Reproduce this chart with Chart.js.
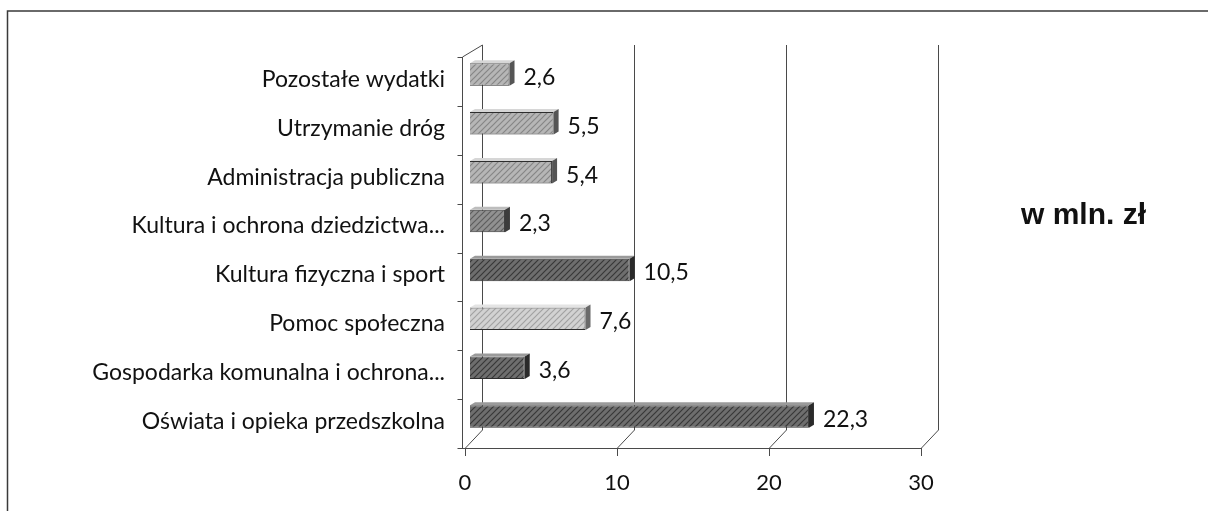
<!DOCTYPE html>
<html>
<head>
<meta charset="utf-8">
<script src="https://cdn.jsdelivr.net/npm/chart.js@4.4.1/dist/chart.umd.min.js"></script>
<style>
  html, body { margin: 0; padding: 0; background: #fff; }
  #wrap { width: 1208px; height: 511px; }
</style>
</head>
<body>
<div id="wrap"><canvas id="chart" width="1208" height="511"></canvas></div>
<script>
// categories, top to bottom as in the picture
const categories = [
  'Pozostałe wydatki',
  'Utrzymanie dróg',
  'Administracja publiczna',
  'Kultura i ochrona dziedzictwa...',
  'Kultura fizyczna i sport',
  'Pomoc społeczna',
  'Gospodarka komunalna i ochrona...',
  'Oświata i opieka przedszkolna'
];
// w mln. zł
const values = [2.6, 5.5, 5.4, 2.3, 10.5, 7.6, 3.6, 22.3];
const unitLabel = 'w mln. zł';
const xMin = 0, xMax = 30, xStep = 10;

// shade per bar (kept apart from the data)
const shadeOf = ['light', 'light', 'light', 'mid', 'dark', 'lightest', 'dark', 'dark'];
const shades = {
  lightest: { base: '#d2d2d2', line: '#a2a2a2', cap: '#6a6a6a', top: '#e4e4e4' },
  light:    { base: '#b6b6b6', line: '#868686', cap: '#555555', top: '#d6d6d6' },
  mid:      { base: '#919191', line: '#5e5e5e', cap: '#3c3c3c', top: '#bdbdbd' },
  dark:     { base: '#6e6e6e', line: '#383838', cap: '#2a2a2a', top: '#9a9a9a' }
};

const labelFont = { family: 'Lato, "Open Sans", sans-serif', size: 23 };
const tickFont = { family: 'Lato, "Open Sans", sans-serif', size: 22 };
const textColor = '#111';

// little hatch tile to mimic the scanned fill
function hatch(base, line) {
  const t = document.createElement('canvas');
  t.width = 6; t.height = 6;
  const g = t.getContext('2d');
  g.fillStyle = base;
  g.fillRect(0, 0, 6, 6);
  g.strokeStyle = line;
  g.lineWidth = 1.2;
  g.beginPath();
  g.moveTo(0, 6); g.lineTo(6, 0);
  g.moveTo(-1, 1); g.lineTo(1, -1);
  g.moveTo(5, 7); g.lineTo(7, 5);
  g.stroke();
  return g.createPattern(t, 'repeat');
}

const ctx = document.getElementById('chart').getContext('2d');
ctx.letterSpacing = '0.6px';
const fills = shadeOf.map(s => hatch(shades[s].base, shades[s].line));

// 3D-looking walls and floor, placed from the x scale
const FRONT_DX = -5, BACK_DX = 12;
const FLOOR_Y = 448, BACK_BOTTOM = 430, BACK_TOP = 45, FRONT_TOP = 57;

const wallPlugin = {
  id: 'walls',
  beforeDatasetsDraw(chart) {
    const g = chart.ctx;
    const xs = chart.scales.x;
    g.save();
    g.strokeStyle = '#4a4a4a';
    g.lineWidth = 1;
    for (let v = xMin; v <= xMax; v += xStep) {
      const p = xs.getPixelForValue(v);
      const bx = Math.round(p + BACK_DX) + 0.5;
      const fx = Math.round(p + FRONT_DX) + 0.5;
      g.beginPath();
      g.moveTo(bx, BACK_TOP); g.lineTo(bx, BACK_BOTTOM);
      g.lineTo(fx, FLOOR_Y); g.lineTo(fx, FLOOR_Y + 8);
      g.stroke();
    }
    // front floor edge
    const f0 = xs.getPixelForValue(xMin) + FRONT_DX;
    const f1 = xs.getPixelForValue(xMax) + FRONT_DX;
    g.beginPath();
    g.moveTo(f0 - 3, FLOOR_Y + 0.5); g.lineTo(f1, FLOOR_Y + 0.5);
    g.stroke();
    // left wall front edge with category ticks
    const lx = Math.round(f0 - 3) + 0.5;
    const b0 = xs.getPixelForValue(xMin) + BACK_DX;
    g.beginPath();
    g.moveTo(lx, FLOOR_Y); g.lineTo(lx, FRONT_TOP);
    g.lineTo(Math.round(b0) + 0.5, BACK_TOP);
    g.stroke();
    const n = categories.length;
    const step = (FLOOR_Y - FRONT_TOP) / n;
    g.beginPath();
    for (let i = 0; i <= n; i++) {
      const y = Math.round(FRONT_TOP + i * step) + 0.5;
      g.moveTo(lx - 5, y); g.lineTo(lx, y);
    }
    g.stroke();
    g.restore();
  }
};

// top face, end cap and value label for each bar
const barPlugin = {
  id: 'bar3d',
  afterDatasetsDraw(chart) {
    const g = chart.ctx;
    const meta = chart.getDatasetMeta(0);
    const dx = 5, dy = 3;
    g.save();
    meta.data.forEach((bar, i) => {
      const s = shades[shadeOf[i]];
      const top = bar.y - bar.height / 2;
      const bottom = bar.y + bar.height / 2;
      const x0 = bar.base, x1 = bar.x;
      g.fillStyle = s.top;
      g.beginPath();
      g.moveTo(x0, top); g.lineTo(x0 + dx, top - dy);
      g.lineTo(x1 + dx, top - dy); g.lineTo(x1, top);
      g.closePath(); g.fill();
      g.fillStyle = s.cap;
      g.beginPath();
      g.moveTo(x1, top); g.lineTo(x1 + dx, top - dy);
      g.lineTo(x1 + dx, bottom - dy); g.lineTo(x1, bottom);
      g.closePath(); g.fill();
      g.fillStyle = textColor;
      g.font = `${labelFont.size}px ${labelFont.family}`;
      g.textAlign = 'left';
      g.textBaseline = 'middle';
      g.fillText(values[i].toFixed(1).replace('.', ','), x1 + dx + 9, bar.y + 3);
    });
    g.restore();
  }
};

// frame and unit caption
const framePlugin = {
  id: 'frame',
  afterDraw(chart) {
    const g = chart.ctx;
    g.save();
    g.strokeStyle = '#3a3a3a';
    g.lineWidth = 1.5;
    g.beginPath();
    g.moveTo(7.5, 511); g.lineTo(7.5, 11); g.lineTo(1208, 11);
    g.stroke();
    g.fillStyle = textColor;
    g.letterSpacing = '0px';
    g.font = 'bold 30px "Liberation Sans", Arial, sans-serif';
    g.textAlign = 'left';
    g.textBaseline = 'alphabetic';
    g.fillText(unitLabel, 1021, 224);
    g.restore();
  }
};

new Chart(ctx, {
  type: 'bar',
  data: {
    labels: categories,
    datasets: [{
      data: values,
      backgroundColor: fills,
      borderColor: '#2e2e2e',
      borderWidth: 1,
      barPercentage: 0.46,
      categoryPercentage: 1
    }]
  },
  options: {
    responsive: false,
    animation: false,
    indexAxis: 'y',
    layout: { padding: { top: 50, right: 282, left: 0, bottom: 0 } },
    plugins: { legend: { display: false }, tooltip: { enabled: false } },
    scales: {
      x: {
        min: xMin,
        max: xMax,
        ticks: { stepSize: xStep, padding: 29, labelOffset: -5, font: tickFont, color: textColor, maxRotation: 0 },
        grid: { display: false, drawTicks: false },
        border: { display: false },
        afterFit(s) { s.height = 70; }
      },
      y: {
        ticks: { padding: 25, labelOffset: 5, font: labelFont, color: textColor, autoSkip: false },
        grid: { display: false, drawTicks: false },
        border: { display: false },
        afterFit(s) { s.width = 470; }
      }
    }
  },
  plugins: [wallPlugin, barPlugin, framePlugin]
});
</script>
</body>
</html>
